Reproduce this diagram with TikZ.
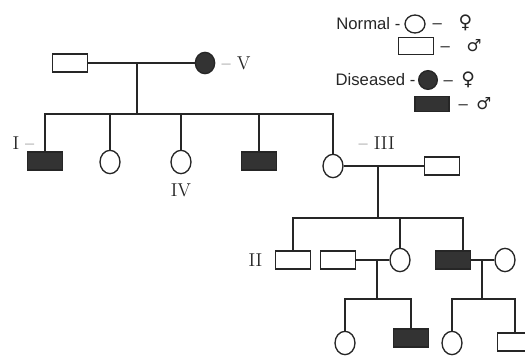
\documentclass[tikz,border=0pt]{standalone}
\usepackage{fontspec}
\setsansfont{Liberation Sans}
\newfontfamily\symfont{DejaVu Sans}
\usetikzlibrary{shapes.geometric}

\begin{document}
\begin{tikzpicture}[x=0.75pt,y=-0.75pt,line width=1pt,color=black!85,
	male/.style={draw,rectangle,inner sep=0pt,minimum width=26pt,minimum height=13.5pt},
	female/.style={draw,ellipse,inner sep=0pt,minimum width=15pt,minimum height=17.5pt},
	sick/.style={fill=black!80},
	lbl/.style={inner sep=0pt,font=\fontsize{14}{16}\selectfont},
	key/.style={inner sep=0pt,font=\sffamily\fontsize{12.5}{15}\selectfont}]
		\useasboundingbox (0,0) rectangle (525,356);
		%%%%% LEGEND %%%%%
		\node[key,anchor=east] (nlab) at (401,24) {Normal -};
		\node[female,minimum height=13.5pt] (kf) at (415,24) {};
		\node[key,anchor=west] (kfs) at (432,23) {--\quad{\symfont\fontsize{14}{16}\selectfont ♀}};
		\node[male,minimum height=12.5pt] (km) at (416,46) {};
		\node[key,anchor=west] (kms) at (440,46) {--\quad{\symfont ♂}};
		\node[key,anchor=east] (dlab) at (416,80) {Diseased -};
		\node[female,sick,minimum width=14pt,minimum height=14pt] (kdf) at (428,80) {};
		\node[key,anchor=west] (kdfs) at (443,80) {--\enspace{\symfont\fontsize{14}{16}\selectfont ♀}};
		\node[male,sick,minimum width=25.5pt,minimum height=11.5pt] (kdm) at (432,104) {};
		\node[key,anchor=west] (kdms) at (458,104) {--\enspace{\symfont ♂}};
		
		%%%%% GENERATION 1 %%%%%
		\node[male] (m1) at (70,63) {};
		\node[female,sick,minimum width=14.5pt,minimum height=16pt] (f1) at (205,63) {};
		\node[lbl,anchor=west] (vlab) at (221,63) {-- V};
		\coordinate (j1) at (137,63);
		\coordinate (b1) at (137,114);
		\draw (m1) -- (f1);
		\draw (j1) -- (b1);
		
		%%%%% GENERATION 2 %%%%%
		\node[male,sick] (c1) at (45,161) {};
		\node[female] (c2) at (110,162) {};
		\node[female] (c3) at (181,162) {};
		\node[male,sick] (c4) at (259,161) {};
		\node[female] (c5) at (333,166) {};
		\foreach \k in {c1,c2,c3,c4,c5} \draw (b1) -| (\k);
		\node[lbl,anchor=east] (ilab) at (35,143) {I --};
		\node[lbl] (ivlab) at (181,190) {IV};
		\node[lbl,anchor=west] (iiilab) at (358,143) {-- III};
		
		\node[male] (m2) at (442,166) {};
		\coordinate (j2) at (378,166);
		\coordinate (b2) at (378,218);
		\draw (c5) -- (m2);
		\draw (j2) -- (b2);
		
		%%%%% GENERATION 3 %%%%%
		\node[male] (g1) at (293,260) {};
		\node[male] (g2) at (338,260) {};
		\node[female] (g3) at (400,260) {};
		\node[male,sick] (g4) at (453,260) {};
		\node[female] (g5) at (505,260) {};
		\draw (b2) -| (g1);
		\draw (b2) -| (g3);
		\draw (b2) -| ([xshift=7.5pt]g4.north);
		\node[lbl,anchor=east] (iilab) at (263,260) {II};
		
		\draw (g2) -- (g3);
		\coordinate (j3) at (377,260);
		\coordinate (b3) at (377,299);
		\draw (j3) -- (b3);
		\draw (g4) -- (g5);
		\coordinate (j4) at (482,260);
		\coordinate (b4) at (482,299);
		\draw (j4) -- (b4);
		
		%%%%% GENERATION 4 %%%%%
		\node[female] (h1) at (345,343) {};
		\node[male,sick] (h2) at (411,338) {};
		\node[female] (h3) at (452,343) {};
		\node[male] (h4) at (515,342) {};
		\foreach \k in {h1,h2} \draw (b3) -| (\k);
		\foreach \k in {h3,h4} \draw (b4) -| (\k);
		%%%%% END %%%%%
	\end{tikzpicture}
\end{document}
